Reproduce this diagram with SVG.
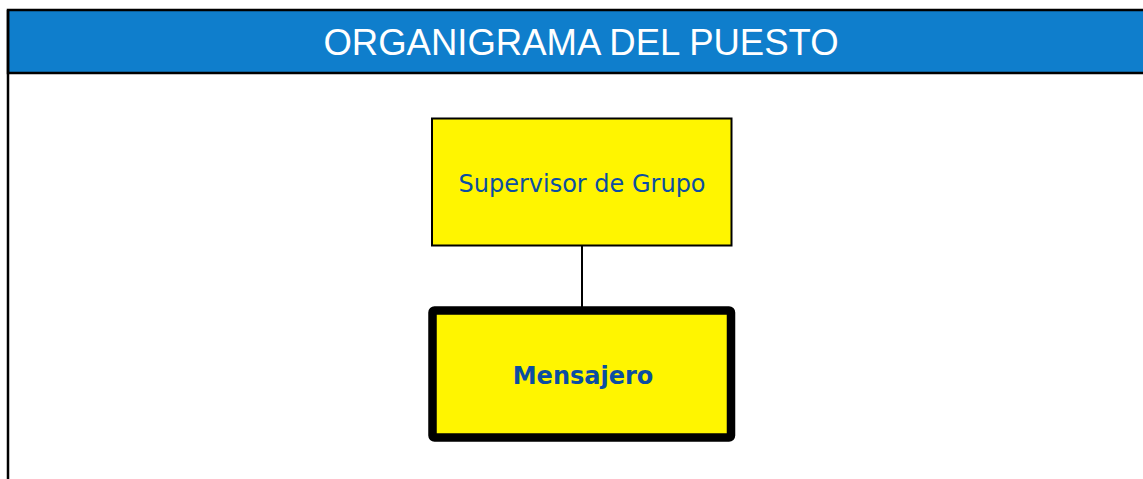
<svg xmlns="http://www.w3.org/2000/svg" width="1143" height="479" viewBox="0 0 1143 479">
<style>
.box{fill:#FFF500;stroke:#000}
.lbl{font-family:"DejaVu Sans","Verdana",sans-serif;font-size:24px;fill:#0B4EA2;text-anchor:middle}
.title{font-family:"Liberation Sans","Arial",sans-serif;font-size:36.5px;fill:#fff;text-anchor:middle}
</style>
<rect x="0" y="0" width="1143" height="479" fill="#fff"/>
<g id="header">
<rect x="8" y="10" width="1140" height="63" fill="#0F7ECC" stroke="#000" stroke-width="2.5"/>
<line x1="8" y1="10" x2="8" y2="479" stroke="#000" stroke-width="2.5"/>
<text class="title" x="581" y="55">ORGANIGRAMA DEL PUESTO</text>
</g>
<g id="connectors">
<line x1="582" y1="246" x2="582" y2="310" stroke="#000" stroke-width="2"/>
</g>
<g id="supervisor">
<rect class="box" x="432" y="118.5" width="299.5" height="127" stroke-width="2"/>
<text class="lbl" x="582" y="192">Supervisor de Grupo</text>
</g>
<g id="mensajero">
<rect class="box" x="432.5" y="310.5" width="298.5" height="127" rx="2" stroke-width="8.5"/>
<text class="lbl" x="583" y="384" font-weight="bold">Mensajero</text>
</g>
</svg>
